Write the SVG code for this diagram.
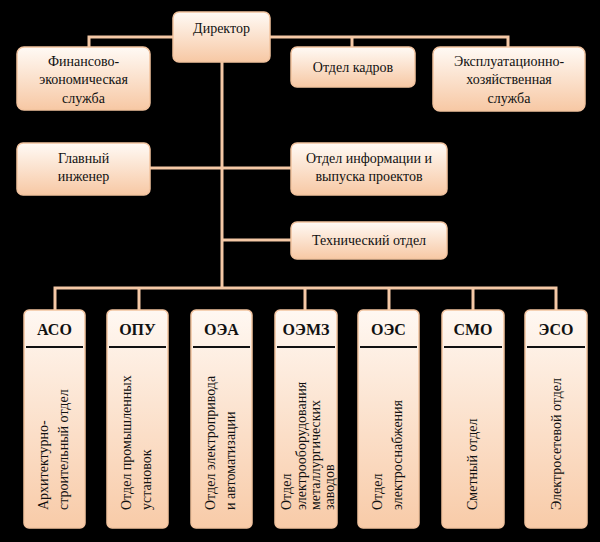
<svg xmlns="http://www.w3.org/2000/svg" width="600" height="542" viewBox="0 0 600 542">
<defs>
<linearGradient id="g" x1="0" y1="0" x2="0" y2="1"><stop offset="0" stop-color="#fffaf5"/><stop offset="1" stop-color="#f7c8a4"/></linearGradient>
<linearGradient id="gv" x1="0" y1="0" x2="0" y2="1"><stop offset="0" stop-color="#fff8f2"/><stop offset="1" stop-color="#f8cba8"/></linearGradient>
</defs>
<style>
.b{fill:url(#g);stroke:#f2c39f;stroke-width:1.5}
.v{fill:url(#gv);stroke:#f2c39f;stroke-width:1.5}
.c{fill:none;stroke:#f4c8a6;stroke-width:3}
text{font-family:"Liberation Serif","Times New Roman",serif;font-size:14px;fill:#111}
.m{text-anchor:middle}
.h{font-weight:bold;font-size:16px;text-anchor:middle}
</style>
<rect width="600" height="542" fill="#000"/>
<g id="connectors">
<path class="c" d="M89 48V37H173M270 37H508V48M352 37V48M222 62V288M150 168H291M222 240H291M55 310V288H556V310M139 288V310M305 288V310M389 288V310M473 288V310"/>
</g>
<g id="director"><rect class="b" x="173" y="12" width="97" height="50" rx="6"/><text class="m" x="221.5" y="33">Директор</text></g>
<g id="finance"><rect class="b" x="17" y="47" width="133" height="63" rx="7"/><text class="m" x="83.5" y="66">Финансово-</text><text class="m" x="83.5" y="84">экономическая</text><text class="m" x="83.5" y="103">служба</text></g>
<g id="hr"><rect class="b" x="291" y="47" width="124" height="40" rx="6"/><text class="m" x="353" y="72">Отдел кадров</text></g>
<g id="ops"><rect class="b" x="433" y="47" width="152" height="64" rx="7"/><text class="m" x="509" y="66">Эксплуатационно-</text><text class="m" x="509" y="84">хозяйственная</text><text class="m" x="509" y="103">служба</text></g>
<g id="chief"><rect class="b" x="17" y="143" width="133" height="52" rx="6"/><text class="m" x="83.5" y="163">Главный</text><text class="m" x="83.5" y="181">инженер</text></g>
<g id="info"><rect class="b" x="291" y="143" width="156" height="52" rx="6"/><text class="m" x="369" y="163">Отдел информации и</text><text class="m" x="369" y="181">выпуска проектов</text></g>
<g id="tech"><rect class="b" x="291" y="222" width="156" height="37" rx="6"/><text class="m" x="369" y="245">Технический отдел</text></g>
<g id="aso"><rect class="v" x="24" y="310" width="61" height="218" rx="5"/><line x1="26" y1="347" x2="83" y2="347" stroke="#111" stroke-width="2"/><text class="h" x="54.5" y="335">АСО</text><text transform="translate(48,510) rotate(-90)">Архитектурно-</text><text transform="translate(68,510) rotate(-90)">строительный отдел</text></g>
<g id="opu"><rect class="v" x="107" y="310" width="61" height="218" rx="5"/><line x1="109" y1="347" x2="166" y2="347" stroke="#111" stroke-width="2"/><text class="h" x="137.5" y="335">ОПУ</text><text transform="translate(131,510) rotate(-90)">Отдел промышленных</text><text transform="translate(151,510) rotate(-90)">установок</text></g>
<g id="oea"><rect class="v" x="191" y="310" width="61" height="218" rx="5"/><line x1="193" y1="347" x2="250" y2="347" stroke="#111" stroke-width="2"/><text class="h" x="221.5" y="335">ОЭА</text><text transform="translate(215,510) rotate(-90)">Отдел электропривода</text><text transform="translate(235,510) rotate(-90)">и автоматизации</text></g>
<g id="oemz"><rect class="v" x="275" y="310" width="62" height="218" rx="5"/><line x1="277" y1="347" x2="335" y2="347" stroke="#111" stroke-width="2"/><text class="h" x="306" y="335">ОЭМЗ</text><text transform="translate(291,510) rotate(-90)">Отдел</text><text transform="translate(306,510) rotate(-90)">электрооборудования</text><text transform="translate(320,510) rotate(-90)">металлургических</text><text transform="translate(334,510) rotate(-90)">заводов</text></g>
<g id="oes"><rect class="v" x="358" y="310" width="61" height="218" rx="5"/><line x1="360" y1="347" x2="417" y2="347" stroke="#111" stroke-width="2"/><text class="h" x="388.5" y="335">ОЭС</text><text transform="translate(382,510) rotate(-90)">Отдел</text><text transform="translate(402,510) rotate(-90)">электроснабжения</text></g>
<g id="smo"><rect class="v" x="442" y="310" width="62" height="218" rx="5"/><line x1="444" y1="347" x2="502" y2="347" stroke="#111" stroke-width="2"/><text class="h" x="473" y="335">СМО</text><text transform="translate(477,510) rotate(-90)">Сметный отдел</text></g>
<g id="eso"><rect class="v" x="525" y="310" width="62" height="218" rx="5"/><line x1="527" y1="347" x2="585" y2="347" stroke="#111" stroke-width="2"/><text class="h" x="556" y="335">ЭСО</text><text transform="translate(561,510) rotate(-90)">Электросетевой отдел</text></g>
</svg>
